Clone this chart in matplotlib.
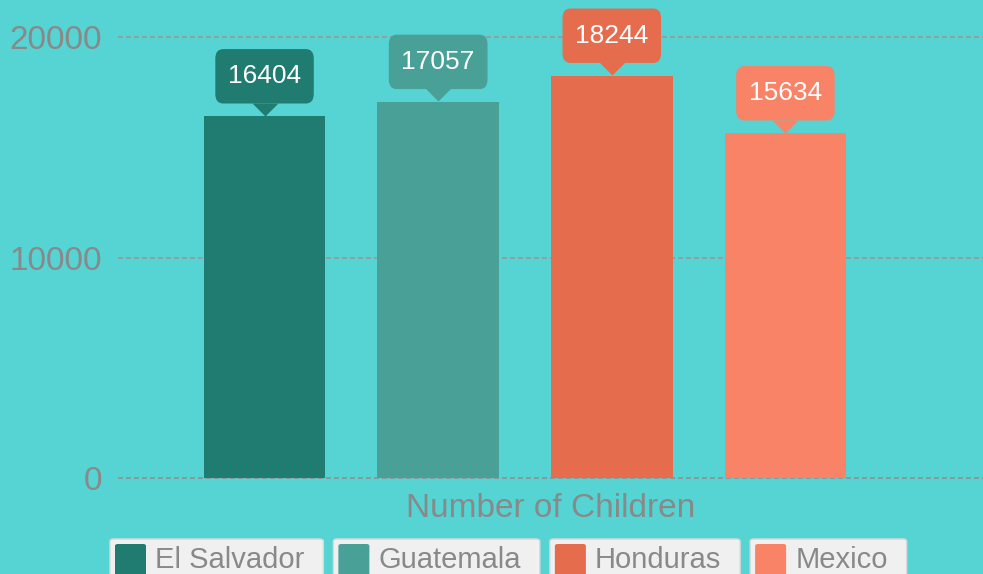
import matplotlib.pyplot as plt
from matplotlib.patches import FancyBboxPatch
from matplotlib.transforms import offset_copy

countries = ['El Salvador', 'Guatemala', 'Honduras', 'Mexico']
children = [16404, 17057, 18244, 15634]
colors = ['#207B70', '#48A097', '#E66C4E', '#F98366']
yticks = [0, 10000, 20000]

bg = '#55D4D3'
gray = '#898989'
W, H = 983, 574

plt.rcParams['font.family'] = ['Liberation Sans', 'DejaVu Sans']

fig = plt.figure(figsize=(W / 100, H / 100), dpi=100, facecolor=bg)
ax = fig.add_axes([118 / W, (H - 478) / H, 865 / W, 478 / H])
ax.set_facecolor(bg)

x = list(range(len(countries)))
ax.bar(x, children, width=0.70, color=colors, zorder=2)

ax.set_xlim(-0.844, 4.138)
ax.set_ylim(0, 20000 * 478 / 441)
ax.set_yticks(yticks)
ax.set_yticklabels([str(v) for v in yticks])
ax.set_xticks([])
ax.tick_params(axis='y', length=0, pad=11.5, labelsize=24, labelcolor=gray)
for s in ax.spines.values():
    s.set_visible(False)
ax.grid(axis='y', color='#999999', lw=1.2, linestyle=(0, (3, 1.8)), zorder=1)
for gl in ax.get_ygridlines():
    gl.set_clip_on(False)
ax.get_ygridlines()[0].set_color('#8f8f8f')
ax.set_xlabel('Number of Children', fontsize=24, color=gray, labelpad=11)

# callout labels above the bars
tip = offset_copy(ax.transData, fig=fig, x=0, y=13.5, units='dots')
for xi, v, c in zip(x, children, colors):
    ax.annotate(str(v), (xi, v), xytext=(0, 28.8), textcoords='offset points',
                ha='center', va='center', fontsize=19, color='white',
                annotation_clip=False, zorder=5,
                bbox=dict(boxstyle='round,pad=0.48,rounding_size=0.3', fc=c, ec='none',
                          mutation_aspect=1.2))
    ax.plot([xi], [v], marker=[(-1, 0), (1, 0), (0, -1)], ms=18.7, color=c,
            mec='none', transform=tip, clip_on=False, zorder=5)


# legend drawn as separate boxes along the bottom
def fx(px):
    return px / W


def fy(py):
    return (H - py) / H


fig.canvas.draw()
renderer = fig.canvas.get_renderer()
left = 110
for name, c in zip(countries, colors):
    t = fig.text(fx(left + 45), fy(568), name, fontsize=21, color=gray,
                 ha='left', va='baseline', zorder=4)
    tw = t.get_window_extent(renderer).width
    right = left + 45 + tw + 19
    fig.patches.append(FancyBboxPatch((fx(left), fy(590)), fx(right - left), (590 - 539) / H,
                                      boxstyle='round,pad=0,rounding_size=0.004',
                                      transform=fig.transFigure, fc='#F0F0F0',
                                      ec='#D8D8D8', lw=1, zorder=2))
    fig.patches.append(FancyBboxPatch((fx(left + 5), fy(590)), fx(31), (590 - 544) / H,
                                      boxstyle='round,pad=0,rounding_size=0.003',
                                      transform=fig.transFigure, fc=c, ec='none', zorder=3))
    left = right + 10

fig.savefig('out.png', dpi=100, facecolor=bg)
